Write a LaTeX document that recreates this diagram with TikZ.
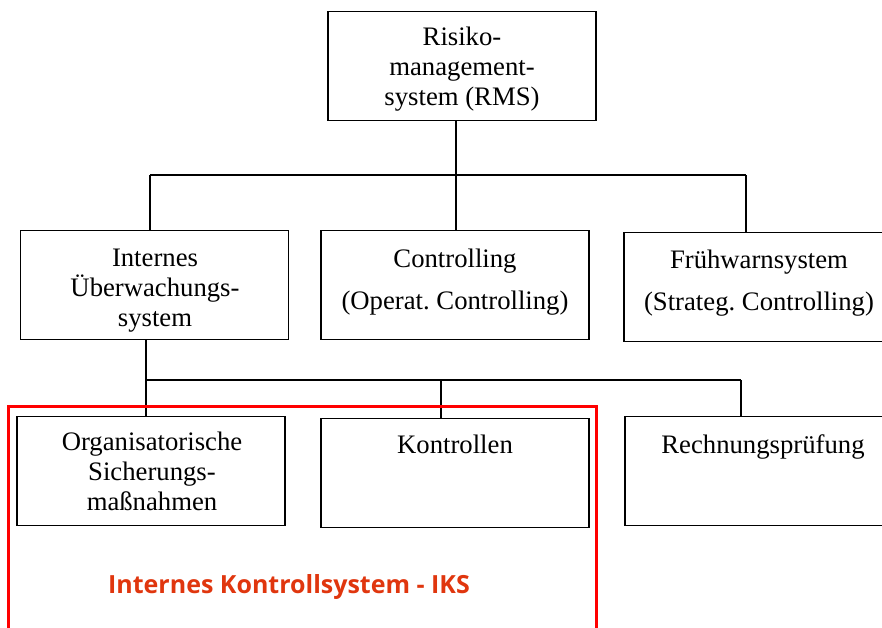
\documentclass[tikz,border=0pt]{standalone}
\usepackage{fontspec}
\setmainfont{Liberation Serif}
\newfontfamily\iksfont{Open Sans}
\definecolor{iksred}{HTML}{E0360E}
\begin{document}
\frenchspacing
\begin{tikzpicture}[x=1pt,y=-1pt,
  box/.style={draw=black, line width=1.5pt, minimum width=268pt, minimum height=109pt, inner sep=0pt},
  txt/.style={align=center, inner sep=0pt, anchor=north, font=\fontsize{26.7}{30}\selectfont},
  txtwide/.style={align=center, inner sep=0pt, anchor=north, font=\fontsize{26.7}{42}\selectfont},
  conn/.style={draw=black, line width=1.5pt}]
\useasboundingbox (0,0) rectangle (882,627);
% boxes
\node[box] (rms) at (462,66) {};
\node[box] (iue) at (154.5,285) {};
\node[box] (ctrl) at (455,285) {};
\node[box] (fws) at (758,287) {};
\node[box] (org) at (151,471) {};
\node[box] (kon) at (455,473) {};
\node[box] (rp) at (759,471) {};
% texts
\node[txt] (rmst) at (462,26.5) {Risiko-\\management-\\system (RMS)};
\node[txt] (iuet) at (155,248.5) {Internes\\Überwachungs-\\system};
\node[txtwide] (ctrlt) at (455,249) {Controlling\\(Operat. Controlling)};
\node[txtwide] (fwst) at (759,249.5) {Frühwarnsystem\\(Strateg. Controlling)};
\node[txt] (orgt) at (152,432) {Organisatorische\\Sicherungs-\\maßnahmen};
\node[txt] (kont) at (455,435) {Kontrollen};
\node[txt] (rpt) at (763,434) {Rechnungsprüfung};
% top tree
\coordinate (j1) at (456,175);
\coordinate (b1) at (150,175);
\coordinate (b3) at (746,175);
\draw[conn] (j1 |- rms.south) -- (j1);
\draw[conn] (b1) -- (b3);
\draw[conn] (b1) -- (b1 |- iue.north);
\draw[conn] (j1) -- (j1 |- ctrl.north);
\draw[conn] (b3) -- (b3 |- fws.north);
% second tree
\coordinate (j2) at (146,380);
\coordinate (c2) at (441,380);
\coordinate (c3) at (741,380);
\draw[conn] (j2 |- iue.south) -- (j2);
\draw[conn] (j2) -- (c3);
\draw[conn] (j2) -- (j2 |- org.north);
\draw[conn] (c2) -- (c2 |- kon.north);
\draw[conn] (c3) -- (c3 |- rp.north);
% IKS frame
\draw[red, line width=3pt] (8,640) -- (8,406) -- (596,406) -- (596,640);
\node[text=iksred, font=\iksfont\bfseries\fontsize{25}{30}\selectfont, inner sep=0pt] (iks) at (289,587) {Internes Kontrollsystem - IKS};
\end{tikzpicture}
\end{document}
